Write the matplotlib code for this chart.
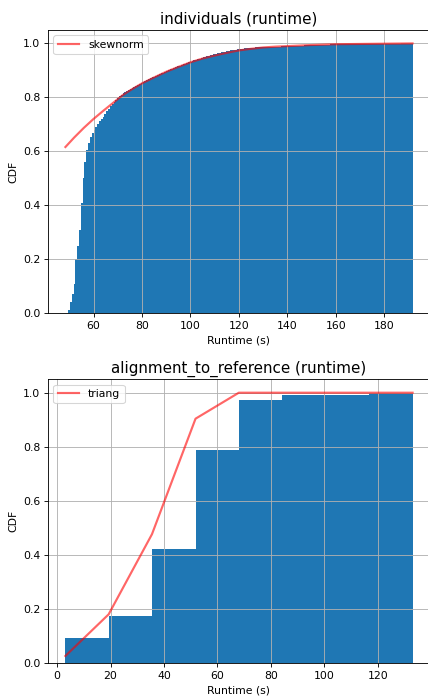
import numpy as np
import matplotlib
matplotlib.use("Agg")
import matplotlib.pyplot as plt

# individuals: cumulative histogram of runtime (bins of 0.75 s from 49.5 to 192)
ind_start, ind_stop = 49.5, 192.0
ind_cdf = [
    0.012, 0.040, 0.072, 0.110, 0.200, 0.250, 0.310, 0.410, 0.500, 0.560,
    0.605, 0.632, 0.652, 0.668, 0.680, 0.692, 0.702, 0.711, 0.720, 0.729,
    0.738, 0.748, 0.758, 0.767, 0.776, 0.784, 0.792, 0.799, 0.805, 0.810,
    0.815, 0.820, 0.824, 0.828, 0.832, 0.835, 0.839, 0.842, 0.846, 0.849,
    0.853, 0.856, 0.860, 0.863, 0.867, 0.870, 0.874, 0.877, 0.880, 0.883,
    0.886, 0.889, 0.892, 0.895, 0.898, 0.901, 0.904, 0.907, 0.910, 0.912,
    0.915, 0.917, 0.920, 0.922, 0.925, 0.927, 0.930, 0.932, 0.935, 0.937,
    0.939, 0.941, 0.944, 0.946, 0.948, 0.950, 0.952, 0.954, 0.956, 0.958,
    0.960, 0.962, 0.964, 0.965, 0.967, 0.968, 0.970, 0.971, 0.973, 0.974,
    0.975, 0.976, 0.977, 0.978, 0.979, 0.980, 0.981, 0.982, 0.982, 0.983,
    0.983, 0.984, 0.984, 0.985, 0.985, 0.985, 0.986, 0.986, 0.986, 0.986,
    0.987, 0.987, 0.987, 0.987,
    0.988, 0.988, 0.988, 0.989, 0.989, 0.989,
    0.990, 0.990, 0.990, 0.991, 0.991, 0.991,
    0.992, 0.992, 0.992, 0.992, 0.993, 0.993,
    0.993, 0.993, 0.994, 0.994, 0.994, 0.994,
    0.995, 0.995, 0.995, 0.995, 0.995, 0.995,
    0.996, 0.996, 0.996, 0.996, 0.996, 0.996,
    0.997, 0.997, 0.997, 0.997, 0.997, 0.997,
    0.997, 0.997, 0.998, 0.998, 0.998, 0.998,
    0.998, 0.998, 0.998, 0.998, 0.998, 0.998,
    0.999, 0.999, 0.999, 0.999, 0.999, 0.999,
    0.999, 0.999, 0.999, 0.999, 0.999, 0.999,
    0.999, 0.999, 0.999, 1.000, 1.000, 1.000,
    1.000, 1.000, 1.000, 1.000,
]
# fitted skewnorm cdf
skew_x = [48.4, 52, 56, 60, 64, 68, 72, 76, 80, 85, 90, 95, 100, 105, 110,
          115, 120, 125, 130, 135, 140, 150, 160, 170, 180, 191.7]
skew_y = [0.616, 0.651, 0.687, 0.720, 0.750, 0.779, 0.808, 0.831, 0.852,
          0.874, 0.895, 0.913, 0.930, 0.944, 0.955, 0.965, 0.974, 0.980,
          0.985, 0.988, 0.990, 0.994, 0.997, 0.998, 0.999, 1.000]

# alignment_to_reference
align_edges = [3.1, 19.3, 35.5, 51.8, 68.0, 84.3, 100.5, 116.8, 133.0]
align_cdf = [0.095, 0.175, 0.421, 0.788, 0.973, 0.991, 0.991, 1.000]
triang_y = [0.027, 0.181, 0.477, 0.904, 1.0, 1.0, 1.0, 1.0, 1.0]

# drawn big and saved at a low dpi, so everything comes out a bit smaller
dpi = 78
fig = plt.figure(figsize=(428 / dpi, 696 / dpi), dpi=dpi)
ax1 = fig.add_axes([0.1121, 0.5500, 0.8925, 0.4070])
ax2 = fig.add_axes([0.1121, 0.0470, 0.8925, 0.4082])

edges = np.linspace(ind_start, ind_stop, len(ind_cdf) + 1)
ax1.stairs(ind_cdf, edges, fill=True, color="tab:blue")
ax1.plot(skew_x, skew_y, "r-", lw=2, alpha=0.6, label="skewnorm")
ax1.set_title("individuals (runtime)", fontsize=14)
ax1.set_xlabel("Runtime (s)")
ax1.set_ylabel("CDF")
ax1.set_xticks([60, 80, 100, 120, 140, 160, 180])
ax1.set_xlim(41.2, 198.9)
ax1.set_ylim(0, 1.05)
ax1.legend(loc="upper left")
ax1.grid(True)

ax2.stairs(align_cdf, align_edges, fill=True, color="tab:blue")
ax2.plot(align_edges, triang_y, "r-", lw=2, alpha=0.6, label="triang")
ax2.set_title("alignment_to_reference (runtime)", fontsize=14)
ax2.set_xlabel("Runtime (s)")
ax2.set_ylabel("CDF")
ax2.set_xticks([0, 20, 40, 60, 80, 100, 120])
ax2.set_xlim(-3.4, 139.5)
ax2.set_ylim(0, 1.05)
ax2.legend(loc="upper left")
ax2.grid(True)

fig.savefig("out.png", dpi=dpi)
